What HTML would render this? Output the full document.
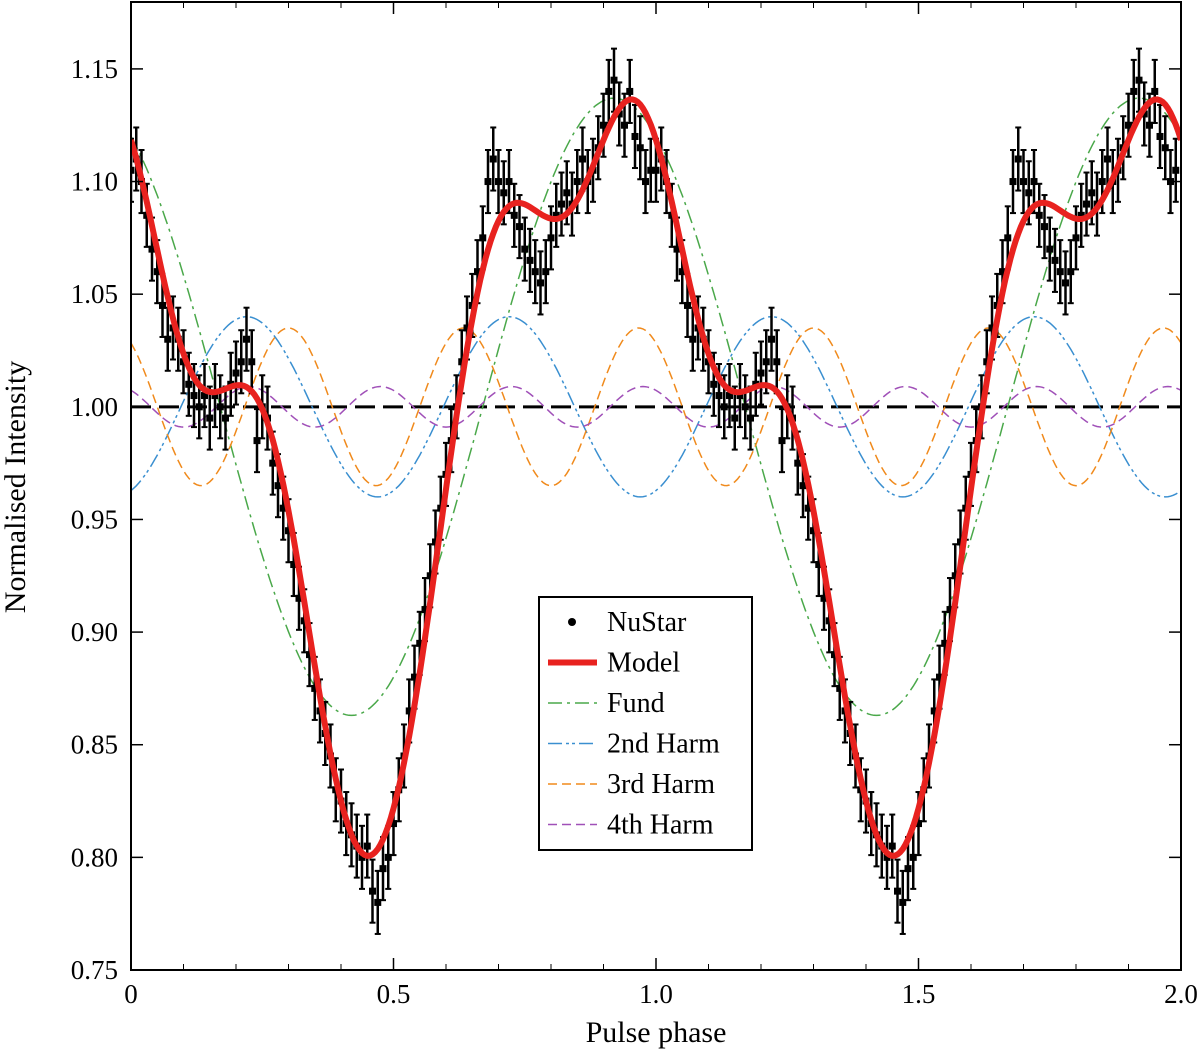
<!DOCTYPE html>
<html><head><meta charset="utf-8"><style>
body{margin:0;background:#fff}
svg{display:block;font-family:"Liberation Serif",serif}
</style></head><body>
<svg id="chart" width="1200" height="1050">
<g id="plot"></g>
</svg>
<script>
const phases = [0,0.01,0.02,0.03,0.04,0.05,0.06,0.07,0.08,0.09,0.10,0.11,0.12,0.13,0.14,0.15,0.16,0.17,0.18,0.19,0.20,0.21,0.22,0.23,0.24,0.25,0.26,0.27,0.28,0.29,0.30,0.31,0.32,0.33,0.34,0.35,0.36,0.37,0.38,0.39,0.40,0.41,0.42,0.43,0.44,0.45,0.46,0.47,0.48,0.49,0.50,0.51,0.52,0.53,0.54,0.55,0.56,0.57,0.58,0.59,0.60,0.61,0.62,0.63,0.64,0.65,0.66,0.67,0.68,0.69,0.70,0.71,0.72,0.73,0.74,0.75,0.76,0.77,0.78,0.79,0.80,0.81,0.82,0.83,0.84,0.85,0.86,0.87,0.88,0.89,0.90,0.91,0.92,0.93,0.94,0.95,0.96,0.97,0.98,0.99];
const intensity = [1.105,1.11,1.10,1.085,1.07,1.06,1.045,1.03,1.035,1.03,1.02,1.01,1.005,1.0,1.005,0.995,1.005,1.0,0.995,1.01,1.015,1.02,1.03,1.02,0.985,1.0,0.995,0.975,0.965,0.955,0.945,0.93,0.915,0.905,0.89,0.875,0.865,0.855,0.845,0.83,0.825,0.815,0.81,0.805,0.80,0.805,0.785,0.78,0.795,0.80,0.815,0.83,0.845,0.865,0.88,0.895,0.91,0.925,0.94,0.955,0.97,0.985,1.0,1.02,1.035,1.045,1.06,1.075,1.10,1.11,1.10,1.095,1.10,1.085,1.08,1.07,1.065,1.06,1.055,1.06,1.075,1.085,1.09,1.095,1.09,1.10,1.11,1.10,1.105,1.115,1.125,1.14,1.145,1.13,1.125,1.14,1.12,1.115,1.10,1.105];
const errorSize = 0.014;
// harmonic components: [harmonic number, amplitude, phase of peak]
const harmonics = [[1,0.137,0.92],[2,0.040,0.22],[3,0.035,0.30],[4,0.009,0.225]];
const harmColors = ["#4aa84a","#3a8fd0","#f08a1c","#a050b8"];
const harmDash = ["14,5,3,5","14,4,3,3,3,4","9,5","9,5"];
const harmNames = ["fund-curve","2nd-harm-curve","3rd-harm-curve","4th-harm-curve"];
const xTicks = [0,0.5,1.0,1.5,2.0];
const xTickLabels = ["0","0.5","1.0","1.5","2.0"];
const yTicks = [0.75,0.80,0.85,0.90,0.95,1.00,1.05,1.10,1.15];
const yTickLabels = ["0.75","0.80","0.85","0.90","0.95","1.00","1.05","1.10","1.15"];

const L=131,R=1181,T=2,B=970;
const X=v=>L+(v-0)/(2-0)*(R-L);
const Y=v=>B-(v-0.75)/(1.1797-0.75)*(B-T);
const NS="http://www.w3.org/2000/svg";
const g=document.getElementById('plot');
function mk(tag,attrs,parent){const e=document.createElementNS(NS,tag);for(const k in attrs)e.setAttribute(k,attrs[k]);(parent||g).appendChild(e);return e;}
const comp=(h,p)=>h[1]*Math.cos(2*Math.PI*h[0]*(p-h[2]));

const defs=mk('defs',{});const cp=mk('clipPath',{id:'c'},defs);mk('rect',{x:L,y:T,width:R-L,height:B-T},cp);
const inner=mk('g',{'clip-path':'url(#c)'});

const base=mk('line',{x1:L,x2:R,y1:Y(1),y2:Y(1),stroke:'#000','stroke-width':3,'stroke-dasharray':'20,8'},inner);



harmonics.forEach((h,i)=>{
  let d='';for(let k=0;k<=400;k++){const p=k/200;d+=(k?'L':'M')+X(p).toFixed(1)+','+Y(1+comp(h,p)).toFixed(1);}
  const pth=mk('path',{d:d,fill:'none',stroke:harmColors[i],'stroke-width':1.5,'stroke-dasharray':harmDash[i]},inner);
  
  
});

for(let c=0;c<2;c++){
  phases.forEach((p,i)=>{
    const px=X(p+c),v=intensity[i],e=errorSize;
    const eb=mk('line',{x1:px,x2:px,y1:Y(v-e),y2:Y(v+e),stroke:'#000','stroke-width':2.5},inner);
    
    
    mk('line',{x1:px-3,x2:px+3,y1:Y(v-e),y2:Y(v-e),stroke:'#000','stroke-width':2},inner);
    mk('line',{x1:px-3,x2:px+3,y1:Y(v+e),y2:Y(v+e),stroke:'#000','stroke-width':2},inner);
    const dot=mk('rect',{x:px-3.5,y:Y(v)-3.5,width:7,height:7,fill:'#000'},inner);
    
    
  });
}

let dm='';for(let k=0;k<=400;k++){const p=k/200;let s=1;harmonics.forEach(h=>s+=comp(h,p));dm+=(k?'L':'M')+X(p).toFixed(1)+','+Y(s).toFixed(1);}
const model=mk('path',{d:dm,fill:'none',stroke:'#e8221f','stroke-width':6},inner);



const fr=mk('rect',{x:L,y:T,width:R-L,height:B-T,fill:'none',stroke:'#000','stroke-width':2});



xTicks.forEach((t,i)=>{
  mk('line',{x1:X(t),x2:X(t),y1:B,y2:B-12,stroke:'#000','stroke-width':1.5});
  mk('line',{x1:X(t),x2:X(t),y1:T,y2:T+12,stroke:'#000','stroke-width':1.5});
  const tx=mk('text',{x:X(t),y:B+33,'text-anchor':'middle','font-size':27});
  tx.textContent=xTickLabels[i];
  
  
});
for(let t=0.1;t<2;t+=0.1){mk('line',{x1:X(t),x2:X(t),y1:B,y2:B-6,stroke:'#000','stroke-width':1});mk('line',{x1:X(t),x2:X(t),y1:T,y2:T+6,stroke:'#000','stroke-width':1});}
yTicks.forEach((t,i)=>{
  mk('line',{x1:L,x2:L+12,y1:Y(t),y2:Y(t),stroke:'#000','stroke-width':1.5});
  mk('line',{x1:R,x2:R-12,y1:Y(t),y2:Y(t),stroke:'#000','stroke-width':1.5});
  const tx=mk('text',{x:118,y:Y(t)+9,'text-anchor':'end','font-size':27});
  tx.textContent=yTickLabels[i];
  
  
});

const xt=mk('text',{x:656,y:1042,'text-anchor':'middle','font-size':30});xt.textContent='Pulse phase';


const yt=mk('text',{x:0,y:0,'text-anchor':'middle','font-size':30,transform:'translate(25,487) rotate(-90)'});yt.textContent='Normalised Intensity';



const lg=mk('g',{});


mk('rect',{x:539,y:597,width:213,height:253,fill:'#fff',stroke:'#000','stroke-width':2},lg);
const labels=['NuStar','Model','Fund','2nd Harm','3rd Harm','4th Harm'];
labels.forEach((lab,i)=>{
  const yy=622+i*40.5;
  if(i===0){mk('circle',{cx:572,cy:yy,r:4,fill:'#000'},lg);}
  else if(i===1){mk('line',{x1:548,x2:597,y1:yy,y2:yy,stroke:'#e8221f','stroke-width':6},lg);}
  else{mk('line',{x1:548,x2:597,y1:yy,y2:yy,stroke:harmColors[i-2],'stroke-width':1.5,'stroke-dasharray':harmDash[i-2]},lg);}
  const t=mk('text',{x:607,y:yy+9,'font-size':28},lg);t.textContent=lab;
  
  
});
</script>
</body></html>
